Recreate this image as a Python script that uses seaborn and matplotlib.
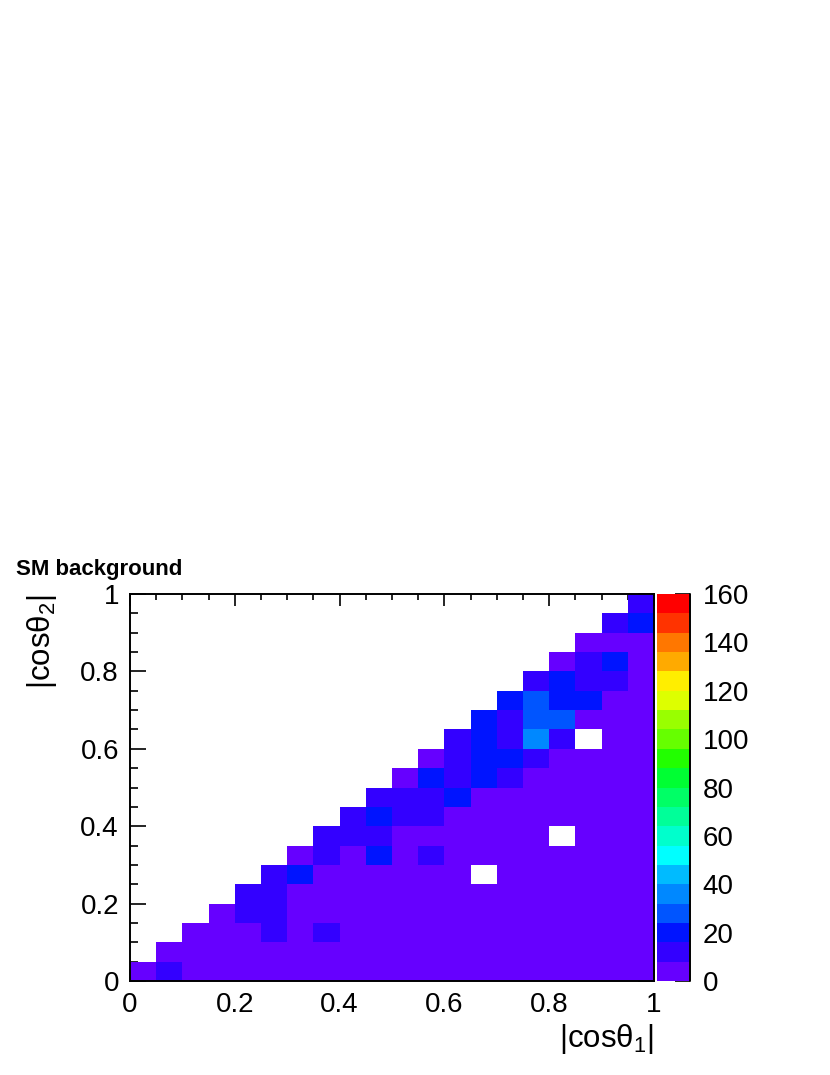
import numpy as np
import pandas as pd
import matplotlib
matplotlib.use("Agg")
import matplotlib.pyplot as plt
from matplotlib.colors import ListedColormap, BoundaryNorm
from matplotlib.lines import Line2D
import seaborn as sns

# ---------------- data ----------------
# bin edges of |cos theta_1| (x) and |cos theta_2| (y): 20 bins from 0 to 1
x_edges = [0.0, 0.05, 0.1, 0.15, 0.2, 0.25, 0.3, 0.35, 0.4, 0.45, 0.5,
           0.55, 0.6, 0.65, 0.7, 0.75, 0.8, 0.85, 0.9, 0.95, 1.0]
y_edges = x_edges

# counts[j][i] : row j = |cos theta_2| bin, column i = |cos theta_1| bin
counts = [
    [6, 11, 7, 6, 6, 5, 6, 5, 5, 5, 5, 4, 5, 4, 4, 4, 4, 4, 4, 3],
    [0, 5, 6, 6, 5, 5, 5, 5, 5, 4, 4, 4, 4, 4, 4, 4, 3, 3, 3, 3],
    [0, 0, 6, 7, 7, 10, 6, 9, 5, 5, 5, 4, 4, 4, 4, 3, 3, 3, 3, 3],
    [0, 0, 0, 7, 10, 10, 6, 6, 5, 5, 5, 4, 4, 4, 3, 3, 3, 3, 3, 2],
    [0, 0, 0, 0, 11, 12, 7, 6, 6, 5, 5, 4, 4, 4, 3, 3, 3, 3, 2, 2],
    [0, 0, 0, 0, 0, 13, 18, 7, 6, 6, 5, 5, 4, 0, 4, 3, 3, 3, 2, 2],
    [0, 0, 0, 0, 0, 0, 7, 12, 7, 19, 6, 9, 5, 4, 4, 3, 3, 3, 2, 2],
    [0, 0, 0, 0, 0, 0, 0, 13, 14, 12, 7, 6, 5, 5, 4, 4, 0, 3, 3, 2],
    [0, 0, 0, 0, 0, 0, 0, 0, 12, 18, 14, 12, 7, 6, 5, 5, 4, 4, 3, 3],
    [0, 0, 0, 0, 0, 0, 0, 0, 0, 13, 14, 12, 20, 7, 6, 5, 5, 4, 4, 3],
    [0, 0, 0, 0, 0, 0, 0, 0, 0, 0, 7, 21, 14, 22, 13, 7, 6, 5, 4, 4],
    [0, 0, 0, 0, 0, 0, 0, 0, 0, 0, 0, 7, 15, 22, 19, 11, 7, 6, 5, 4],
    [0, 0, 0, 0, 0, 0, 0, 0, 0, 0, 0, 0, 14, 21, 13, 36, 12, 0, 6, 5],
    [0, 0, 0, 0, 0, 0, 0, 0, 0, 0, 0, 0, 0, 20, 14, 27, 26, 7, 6, 5],
    [0, 0, 0, 0, 0, 0, 0, 0, 0, 0, 0, 0, 0, 0, 21, 28, 22, 19, 7, 6],
    [0, 0, 0, 0, 0, 0, 0, 0, 0, 0, 0, 0, 0, 0, 0, 14, 20, 12, 11, 7],
    [0, 0, 0, 0, 0, 0, 0, 0, 0, 0, 0, 0, 0, 0, 0, 0, 7, 13, 19, 6],
    [0, 0, 0, 0, 0, 0, 0, 0, 0, 0, 0, 0, 0, 0, 0, 0, 0, 7, 7, 6],
    [0, 0, 0, 0, 0, 0, 0, 0, 0, 0, 0, 0, 0, 0, 0, 0, 0, 0, 12, 20],
    [0, 0, 0, 0, 0, 0, 0, 0, 0, 0, 0, 0, 0, 0, 0, 0, 0, 0, 0, 13],
]

axis_ticks = [0.0, 0.2, 0.4, 0.6, 0.8, 1.0]
axis_tick_labels = ["0", "0.2", "0.4", "0.6", "0.8", "1"]
z_levels = [0, 8, 16, 24, 32, 40, 48, 56, 64, 72, 80, 88, 96, 104, 112,
            120, 128, 136, 144, 152, 160]
z_ticks = [0, 20, 40, 60, 80, 100, 120, 140, 160]

palette_colors = ["#6600ff", "#3300ff", "#0014ff", "#0055ff", "#0088ff",
                  "#00bbff", "#00ffff", "#00ffcc", "#00ff99", "#00ff66",
                  "#00ff33", "#22ff00", "#66ff00", "#99ff00", "#ddff00",
                  "#ffee00", "#ffaa00", "#ff7700", "#ff3300", "#ff0000"]

title_text = "SM background"
xlabel_text = "|cosθ$_{1}$|"
ylabel_text = "|cosθ$_{2}$|"

# ---------------- style ----------------
sns.set_theme(style="white")
plt.rcParams["font.family"] = ["Liberation Sans", "DejaVu Sans"]
plt.rcParams["mathtext.fontset"] = "custom"
plt.rcParams["mathtext.rm"] = "Liberation Sans"
plt.rcParams["mathtext.it"] = "Liberation Sans:italic"
plt.rcParams["mathtext.bf"] = "Liberation Sans:bold"

W, H = 830, 1075
fig = plt.figure(figsize=(W / 100, H / 100), dpi=100)
fig.patch.set_facecolor("white")

ax = fig.add_axes([130 / W, 1 - 981 / H, 524 / W, 387 / H])
cax = fig.add_axes([657 / W, 1 - 981 / H, 33 / W, 387 / H])

arr = np.array(counts, dtype=float)
df = pd.DataFrame(arr)
mask = arr == 0

cmap = ListedColormap(palette_colors)
norm = BoundaryNorm(z_levels, cmap.N)

sns.heatmap(df, ax=ax, cbar_ax=cax, cmap=cmap, norm=norm, mask=mask,
            linewidths=0, square=False, xticklabels=False, yticklabels=False)

nbin = len(x_edges) - 1
ax.set_xlim(0, nbin)
ax.set_ylim(0, nbin)

# ticks in bin units
scale = nbin / (x_edges[-1] - x_edges[0])
major = [t * scale for t in axis_ticks]
minor = [e * scale for e in x_edges]
ax.set_xticks(major)
ax.set_xticklabels(axis_tick_labels)
ax.set_xticks(minor, minor=True)
ax.set_yticks(major)
ax.set_yticklabels(axis_tick_labels)
ax.set_yticks(minor, minor=True)

for s in ax.spines.values():
    s.set_visible(True)
    s.set_color("black")
    s.set_linewidth(1.4)

ax.tick_params(axis="both", which="both", direction="in", colors="black",
               top=True, right=True, bottom=True, left=True, width=1.2)
ax.tick_params(axis="x", which="major", length=8.4, pad=8, labelsize=20)
ax.tick_params(axis="x", which="minor", length=4.2)
ax.tick_params(axis="y", which="major", length=11.5, pad=8, labelsize=20)
ax.tick_params(axis="y", which="minor", length=5.7)
ax.set_xlabel("")
ax.set_ylabel("")

# colorbar
cbar = ax.collections[0].colorbar
cbar.set_ticks(z_ticks)
cbar.set_ticklabels([str(t) for t in z_ticks])
cbar.outline.set_visible(False)
cax.minorticks_off()
cax.tick_params(axis="y", which="major", direction="in", length=10.8,
                width=1.2, pad=9, labelsize=20, colors="black", right=True)
cax.add_line(Line2D([1, 1], [0, 1], transform=cax.transAxes, color="black",
                    lw=1.4, clip_on=False))

# texts
fig.text(16 / W, 1 - 575 / H, title_text, fontsize=16, fontweight="bold",
         ha="left", va="baseline", color="black")
fig.text(654 / W, 1 - 1047 / H, xlabel_text, fontsize=22.5, ha="right",
         va="baseline", color="black")
fig.text(50 / W, 1 - 594 / H, ylabel_text, fontsize=22.5, rotation=90,
         rotation_mode="anchor", ha="right", va="baseline", color="black")

fig.savefig("out.png", dpi=100, facecolor="white")
